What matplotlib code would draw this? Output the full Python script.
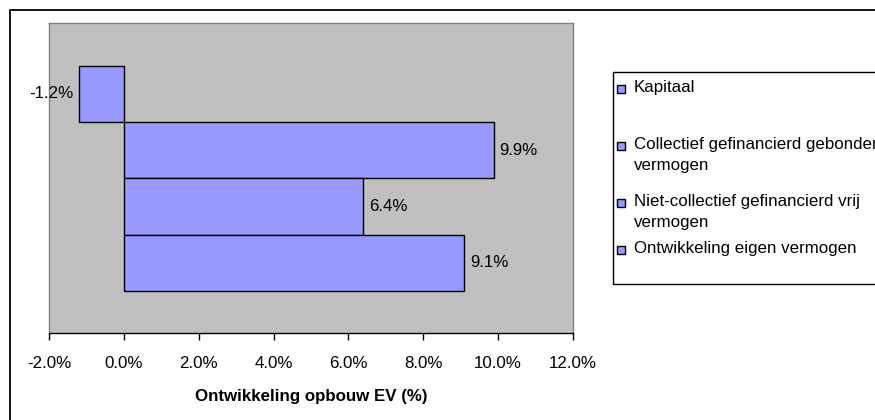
import matplotlib
matplotlib.use("Agg")
import matplotlib.pyplot as plt
from matplotlib.patches import Rectangle
from matplotlib.ticker import FuncFormatter, MultipleLocator

# Series (top to bottom) and their values in percent
series = [
    "Kapitaal",
    "Collectief gefinancierd gebonden\nvermogen",
    "Niet-collectief gefinancierd vrij\nvermogen",
    "Ontwikkeling eigen vermogen",
]
values = [-1.2, 9.9, 6.4, 9.1]
x_min, x_max, x_step = -2.0, 12.0, 2.0
x_title = "Ontwikkeling opbouw EV (%)"

BAR = "#9999FF"
PLOT_BG = "#C0C0C0"
W, H = 875, 420

plt.rcParams["font.family"] = ["Liberation Sans", "DejaVu Sans"]
FS = 12.2

fig = plt.figure(figsize=(W / 100, H / 100), dpi=100)
fig.patch.set_facecolor("white")


def px(x0, y0, x1, y1):
    """Pixel box (top-left origin) -> figure fraction [l, b, w, h]."""
    return [x0 / W, 1 - y1 / H, (x1 - x0) / W, (y1 - y0) / H]


# Chart-area frame (runs past the right and bottom edges)
fig.patches.append(Rectangle((10 / W, -0.1), 1.2, 1 - 10 / H + 0.1,
                             transform=fig.transFigure, fill=False,
                             edgecolor="black", linewidth=1.3, zorder=0))

ax = fig.add_axes(px(49.3, 23.3, 572.7, 333.3))
ax.set_facecolor(PLOT_BG)

n = len(values)
pos = [(n - 1) / 2 - i for i in range(n)]
ax.barh(pos, values, height=1.0, color=BAR, edgecolor="black",
        linewidth=1.0, zorder=3)
ax.set_ylim(-2.75, 2.75)
ax.set_xlim(x_min, x_max)

for y, v in zip(pos, values):
    ax.annotate(f"{v:.1f}%", xy=(v, y), xytext=(4 if v >= 0 else -4, 0),
                textcoords="offset points", va="center",
                ha="left" if v >= 0 else "right", fontsize=FS,
                color="black", zorder=4)

ax.xaxis.set_major_locator(MultipleLocator(x_step))
ax.xaxis.set_major_formatter(FuncFormatter(lambda v, _: f"{v:.1f}%"))
ax.tick_params(axis="x", direction="out", length=5, width=1, colors="black",
               labelsize=FS, pad=11)
ax.set_yticks([])
for s in ("left", "top", "right"):
    ax.spines[s].set_color("#808080")
    ax.spines[s].set_linewidth(1.0)
ax.spines["bottom"].set_color("black")
ax.spines["bottom"].set_linewidth(1.0)
ax.set_xlabel(x_title, fontsize=FS, fontweight="bold", labelpad=13)

# Legend box (extends past the right edge)
lx0, ly0, ly1 = 612.5, 72.0, 284.0
fig.patches.append(Rectangle((lx0 / W, 1 - ly1 / H), 1.0, (ly1 - ly0) / H,
                             transform=fig.transFigure, fill=True,
                             facecolor="white", edgecolor="black",
                             linewidth=1.0, zorder=1))
entry_y = [89, 146, 203, 250]   # centre of the first text line of each entry
for label, yy in zip(series, entry_y):
    fig.patches.append(Rectangle((617 / W, 1 - (yy + 4) / H), 8 / W, 8 / H,
                                 transform=fig.transFigure, facecolor=BAR,
                                 edgecolor="black", linewidth=1.0, zorder=2))
    fig.text(634 / W, 1 - (yy - 9) / H, label, fontsize=FS, va="top",
             ha="left", linespacing=1.5, zorder=3)

fig.savefig("out.png", dpi=100)
